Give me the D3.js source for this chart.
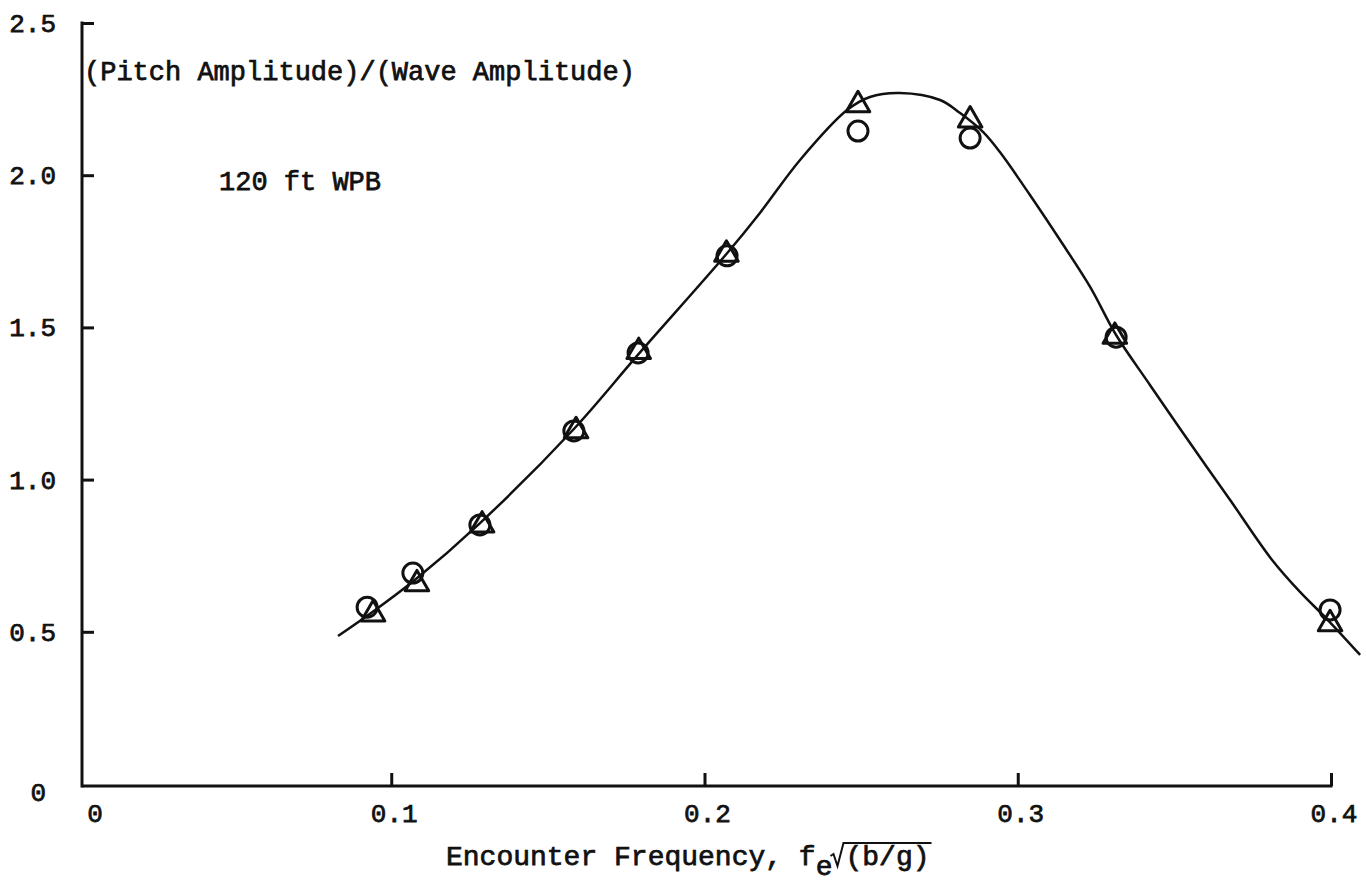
<!DOCTYPE html>
<html>
<head>
<meta charset="utf-8">
<script src="https://cdn.jsdelivr.net/npm/d3@7"></script>
<style>
  html, body { margin: 0; padding: 0; background: #fff; }
  svg { display: block; }
  text { font-family: "Liberation Mono", "DejaVu Sans Mono", monospace; fill: #111; stroke: #111; stroke-width: 0.75px; }
</style>
</head>
<body>
<svg id="chart" width="1366" height="883"></svg>
<script>
// ---- data ----
const circleX = [0.0923, 0.1069, 0.1283, 0.1583, 0.1788, 0.2072, 0.2490, 0.2848, 0.3314, 0.3997];
const circleY = [0.581, 0.693, 0.851, 1.160, 1.416, 1.735, 2.145, 2.122, 1.468, 0.572];
const triangleX = [0.0942, 0.1082, 0.129, 0.159, 0.179, 0.207, 0.249, 0.2848, 0.331, 0.3997];
const triangleY = [0.558, 0.657, 0.85, 1.16, 1.42, 1.74, 2.231, 2.181, 1.47, 0.526];
const curveX = [0.0830, 0.0940, 0.1075, 0.1280, 0.1580, 0.1790, 0.2070, 0.2177, 0.2305, 0.2455, 0.2528, 0.2624, 0.2752, 0.2816, 0.2889, 0.2943, 0.3039, 0.3135, 0.3231, 0.3314, 0.3422, 0.3550, 0.3678, 0.3812, 0.3901, 0.3987, 0.4093];
const curveY = [0.486, 0.565, 0.670, 0.854, 1.163, 1.413, 1.741, 1.876, 2.050, 2.214, 2.257, 2.270, 2.247, 2.204, 2.142, 2.076, 1.935, 1.787, 1.633, 1.475, 1.311, 1.120, 0.933, 0.736, 0.631, 0.542, 0.424];
const xTicks = [0, 0.1, 0.2, 0.3, 0.4];
const xTickLabels = ["0", "0.1", "0.2", "0.3", "0.4"];
const yTicks = [0, 0.5, 1.0, 1.5, 2.0, 2.5];
const yTickLabels = ["0", "0.5", "1.0", "1.5", "2.0", "2.5"];
const yTitle = "(Pitch Amplitude)/(Wave Amplitude)";
const note = "120 ft WPB";
const xTitleMain = "Encounter Frequency, f";
const xTitleSub = "e";
const xTitleRoot = "(b/g)";

// ---- scales ----
const svg = d3.select("#chart");
const x = d3.scaleLinear().domain([0, 0.4]).range([78, 1331]);
const y = d3.scaleLinear().domain([0, 2.5]).range([784, 23]);
const axisX0 = 82;   // where the vertical axis is drawn
const axisY0 = 786;  // where the horizontal axis is drawn

// ---- axes ----
const gx = svg.append("g").attr("transform", `translate(0,${axisY0})`)
  .call(d3.axisBottom(x).tickValues(xTicks.slice(1)).tickSize(-13).tickFormat(() => ""));
gx.select(".domain").attr("d", `M${axisX0},0H${x(0.4) + 1.5}`);
gx.selectAll("path, line").attr("stroke", "#111").attr("stroke-width", 3);

const gy = svg.append("g").attr("transform", `translate(${axisX0},0)`)
  .call(d3.axisLeft(y).tickValues(yTicks.slice(1)).tickSize(-12).tickFormat(() => ""));
gy.select(".domain").attr("d", `M0,${axisY0 + 1.5}V${y(2.5) - 1.5}`);
gy.selectAll("path, line").attr("stroke", "#111").attr("stroke-width", 3);

// tick labels
svg.append("g").selectAll("text").data(xTicks).join("text")
  .attr("x", (d, i) => i === 0 ? 95 : x(d) + 3)
  .attr("y", 822)
  .attr("text-anchor", "middle")
  .attr("font-size", 26)
  .text((d, i) => xTickLabels[i]);

svg.append("g").selectAll("text").data(yTicks).join("text")
  .attr("x", (d, i) => i === 0 ? 46 : 56)
  .attr("y", (d, i) => i === 0 ? 801 : y(d) + 9)
  .attr("text-anchor", "end")
  .attr("font-size", 26)
  .text((d, i) => yTickLabels[i]);

// titles
svg.append("text").attr("x", 84).attr("y", 80).attr("font-size", 27).text(yTitle);
svg.append("text").attr("x", 219).attr("y", 190).attr("font-size", 27).text(note);

const tx0 = 446, tBase = 865;
const t1 = svg.append("text").attr("x", tx0).attr("y", tBase).attr("font-size", 28).text(xTitleMain);
const w1 = t1.node().getComputedTextLength();
const t2 = svg.append("text").attr("x", tx0 + w1).attr("y", tBase + 10).attr("font-size", 28).text(xTitleSub);
const w2 = t2.node().getComputedTextLength();
const rx = tx0 + w1 + w2 - 2;
const overY = 843;
const t3 = svg.append("text").attr("x", rx + 15).attr("y", tBase).attr("font-size", 28).text(xTitleRoot);
const w3 = t3.node().getComputedTextLength();
svg.append("path")
  .attr("d", `M${rx},${tBase - 9}L${rx + 3},${tBase - 11}L${rx + 7},${tBase + 1}L${rx + 13},${overY}H${rx + 15 + w3 + 2}`)
  .attr("fill", "none")
  .attr("stroke", "#111")
  .attr("stroke-width", 2)
  .attr("stroke-linejoin", "miter");

// ---- curve ----
const curvePts = curveX.map((d, i) => [d, curveY[i]]);
svg.append("path")
  .datum(curvePts)
  .attr("fill", "none")
  .attr("stroke", "#111")
  .attr("stroke-width", 2.5)
  .attr("d", d3.line().x(d => x(d[0])).y(d => y(d[1])).curve(d3.curveCatmullRom.alpha(0.5)));

// ---- markers ----
svg.append("g").selectAll("circle").data(circleX).join("circle")
  .attr("cx", d => x(d))
  .attr("cy", (d, i) => y(circleY[i]))
  .attr("r", 10)
  .attr("fill", "none")
  .attr("stroke", "#111")
  .attr("stroke-width", 3);

const tri = d3.symbol().type(d3.symbolTriangle).size(240);
svg.append("g").selectAll("path").data(triangleX).join("path")
  .attr("transform", (d, i) => `translate(${x(d)},${y(triangleY[i])})`)
  .attr("d", tri())
  .attr("fill", "none")
  .attr("stroke", "#111")
  .attr("stroke-width", 3)
  .attr("stroke-linejoin", "round");
</script>
</body>
</html>
